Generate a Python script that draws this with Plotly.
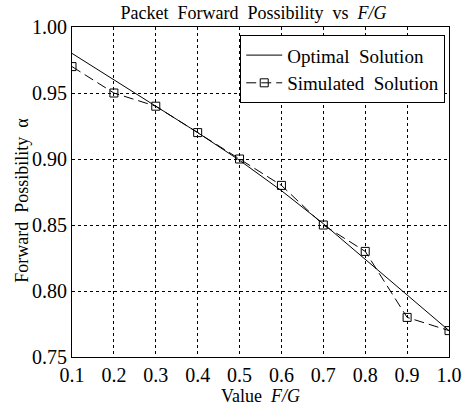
import plotly.graph_objects as go

x_vals = [0.1, 0.2, 0.3, 0.4, 0.5, 0.6, 0.7, 0.8, 0.9, 1.0]
optimal = [0.980, 0.960, 0.940, 0.920, 0.899, 0.876, 0.851, 0.824, 0.797, 0.770]
simulated = [0.97, 0.95, 0.94, 0.92, 0.90, 0.88, 0.85, 0.83, 0.78, 0.77]
x_ticks = [0.1, 0.2, 0.3, 0.4, 0.5, 0.6, 0.7, 0.8, 0.9, 1.0]
y_ticks = [0.75, 0.80, 0.85, 0.90, 0.95, 1.00]

FONT = "Liberation Serif"

fig = go.Figure()
fig.add_trace(go.Scatter(x=x_vals, y=optimal, mode="lines", name="Optimal  Solution",
                         line=dict(color="black", width=1)))
fig.add_trace(go.Scatter(x=x_vals, y=simulated, mode="lines+markers", name="Simulated  Solution",
                         line=dict(color="black", width=1, dash="10px,5px"),
                         marker=dict(symbol="square-open", size=8, color="black",
                                     line=dict(width=1, color="black"))))

axis_common = dict(showline=True, linecolor="black", linewidth=1, mirror=True,
                   showgrid=True, gridcolor="black", gridwidth=1, griddash="dot",
                   ticks="", zeroline=False, automargin=False,
                   tickfont=dict(family=FONT, size=20, color="black"))

fig.update_layout(
    width=474, height=407,
    margin=dict(l=72, r=25, t=27, b=50),
    paper_bgcolor="white", plot_bgcolor="white",
    font=dict(family=FONT, color="black"),
    title=dict(text="Packet  Forward  Possibility  vs  <i>F/G</i>", x=0.535, xanchor="center",
               y=0.97, yanchor="middle", font=dict(family=FONT, size=18, color="black")),
    xaxis=dict(range=[0.1, 1.0], tickvals=x_ticks, tickformat=".1f",
               title=dict(text="Value  <i>F/G</i>", font=dict(family=FONT, size=18), standoff=0),
               **axis_common),
    yaxis=dict(range=[0.75, 1.00], tickvals=y_ticks, tickformat=".2f",
               **axis_common),
    legend=dict(x=0.99, y=0.975, xanchor="right", yanchor="top",
                bgcolor="white", bordercolor="black", borderwidth=1,
                font=dict(family=FONT, size=19, color="black"), itemwidth=36,
                tracegroupgap=0),
    showlegend=True,
    annotations=[dict(text="Forward  Possibility  α", textangle=-90, showarrow=False,
                      xref="paper", yref="paper", x=-0.133, y=0.476,
                      xanchor="center", yanchor="middle",
                      font=dict(family=FONT, size=18, color="black"))],
)

fig.write_html("out.html", config={"displayModeBar": False},
               post_script="document.body.style.margin='0';")
